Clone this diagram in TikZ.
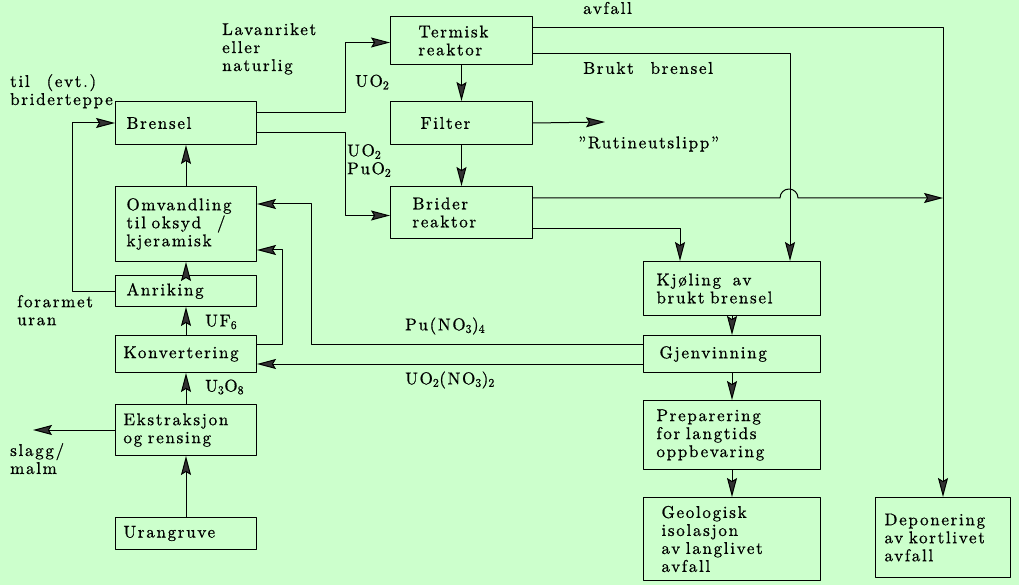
\documentclass[tikz,border=0pt]{standalone}
\usepackage{fontspec}
\setmainfont{lmroman10-regular.otf}[LetterSpace=10, WordSpace=2.3, FakeBold=0.8]
\usetikzlibrary{arrows.meta}
\definecolor{paper}{RGB}{204,255,204}
\definecolor{tipgray}{RGB}{50,50,50}

\begin{document}
\begin{tikzpicture}[
  x=1pt,
  y=-1pt,
  line cap=round,
  line join=round,
  every node/.style={font=\fontsize{17}{18}\selectfont},
  stage/.style={draw=black, line width=1pt, anchor=north west, align=left, inner ysep=0pt},
  tag/.style={inner sep=0pt, align=left},
  flow/.style={-{Stealth[length=19pt, width=10pt, inset=3pt, fill=tipgray]}, line width=1pt}
]
  % Paper and its margins.
  \fill[paper] (0,0) rectangle (1019,585);

  % Fuel preparation column.
  \node[stage, minimum width=141pt, minimum height=43pt, text width=119pt, inner xsep=11pt]
    (brensel) at (115,101) {Brensel};
  \node[stage, minimum width=141pt, minimum height=75pt, text width=119pt, inner xsep=11pt]
    (omvandling) at (115,186) {Omvandling\\til oksyd\hspace{16pt}/\\kjeramisk};
  \node[stage, minimum width=141pt, minimum height=31pt, text width=119pt, inner xsep=11pt]
    (anriking) at (115,275) {Anriking};
  \node[stage, minimum width=141pt, minimum height=37pt, text width=125pt, inner xsep=8pt]
    (konvertering) at (115,335) {Konvertering};
  \node[stage, minimum width=141pt, minimum height=51pt, text width=125pt, inner xsep=8pt]
    (ekstraksjon) at (115,404) {Ekstraksjon\\og rensing};
  \node[stage, minimum width=141pt, minimum height=32pt, text width=125pt, inner xsep=8pt]
    (urangruve) at (115,517) {Urangruve};

  % Reactors.
  \node[stage, minimum width=142pt, minimum height=48pt, text width=86pt, inner xsep=28pt]
    (termisk) at (390,16) {Termisk\\reaktor};
  \node[stage, minimum width=142pt, minimum height=43pt, text width=82pt, inner xsep=30pt]
    (filter) at (390,101) {Filter};
  \node[stage, minimum width=142pt, minimum height=52pt, text width=98pt, inner xsep=22pt]
    (brider) at (390,186) {Brider\\reaktor};

  % Back end of the cycle.
  \node[stage, minimum width=177pt, minimum height=54pt, text width=151pt, inner xsep=13pt]
    (kjoling) at (643,261) {Kjøling\hspace{6pt} av\\brukt brensel};
  \node[stage, minimum width=177pt, minimum height=37pt, text width=145pt, inner xsep=16pt]
    (gjenvinning) at (643,335) {Gjenvinning};
  \node[stage, minimum width=177pt, minimum height=69pt, text width=151pt, inner xsep=13pt]
    (preparering) at (643,400) {Preparering\\for langtids\\oppbevaring};
  \node[stage, minimum width=177pt, minimum height=83pt, text width=141pt, inner xsep=18pt]
    (geologisk) at (643,497) {Geologisk\\isolasjon\\av langlivet\\avfall};
  \node[stage, minimum width=135pt, minimum height=80pt, text width=117pt, inner xsep=9pt]
    (deponering) at (875,497) {Deponering\\av kortlivet\\avfall};

  % Labels on the flows.
  \node[tag, anchor=north west] (evt) at (10,74) {til (evt.)\\briderteppe};
  \node[tag, anchor=north west] (lavanriket) at (222,23) {Lavanriket\\eller\\naturlig};
  \node[tag, anchor=west] (uo) at (355,82) {UO\textsubscript{2}};
  \node[tag, anchor=north west] (mox) at (347,144) {UO\textsubscript{2}\\PuO\textsubscript{2}};
  \node[tag, anchor=west] (avfall) at (583,8) {avfall};
  \node[tag, anchor=west] (brukt) at (583,68) {Brukt brensel};
  \node[tag, anchor=west] (utslipp) at (578,144) {''Rutineutslipp''};
  \node[tag, anchor=north west] (forarmet) at (17,295) {forarmet\\uran};
  \node[tag, anchor=west] (uf) at (205,322) {UF\textsubscript{6}};
  \node[tag, anchor=west] (uoo) at (205,387) {U\textsubscript{3}O\textsubscript{8}};
  \node[tag, anchor=north west] (slagg) at (10,443) {slagg/\\malm};
  \node[tag, anchor=west] (punitrat) at (405,326) {Pu(NO\textsubscript{3})\textsubscript{4}};
  \node[tag, anchor=west] (uranylnitrat) at (405,380) {UO\textsubscript{2}(NO\textsubscript{3})\textsubscript{2}};

  % Free ends and the crossing.
  \coordinate (utslippend) at (605,122);
  \coordinate (slaggend) at (33,430);
  \coordinate (hop) at (789,198);

  % Front end: from the mine up to the fuel.
  \draw[flow] (urangruve.north) -- (ekstraksjon.south);
  \draw[flow] (ekstraksjon.north) -- (konvertering.south);
  \draw[flow] (konvertering.north) -- (anriking.south);
  \draw[flow] (anriking.north) -- (omvandling.south);
  \draw[flow] (omvandling.north) -- (brensel.south);
  \draw[flow] (anriking.west) -| ([xshift=-43pt]brensel.west) -- (brensel.west);
  \draw[flow] (ekstraksjon.west) -- (ekstraksjon.west -| slaggend);

  % Fuel into the two reactors.
  \draw[flow] ([yshift=10pt]brensel.east) -- ++(88,0) |- ([yshift=-2pt]termisk.west);
  \draw[flow] ([yshift=-10pt]brensel.east) -- ++(88,0) |- ([yshift=-3pt]brider.west);
  \draw[flow] (termisk.south) -- (filter.north);
  \draw[flow] (filter.south) -- (brider.north);
  \draw[flow] (filter.east) -- (utslippend);

  % Waste and spent fuel.
  \draw[flow] ([yshift=13pt]termisk.east) -| (deponering.north);
  \draw[flow] ([yshift=-13pt]termisk.east) -| ([xshift=-31pt]kjoling.north east);
  \draw[flow] (brider.east |- hop) -- ([xshift=-9pt]hop)
    arc[start angle=180, end angle=0, radius=9pt] -- (hop -| deponering.north);
  \draw[flow] ([yshift=-16pt]brider.east) -| ([xshift=37pt]kjoling.north west);
  \draw[flow] (kjoling.south) -- (gjenvinning.north);
  \draw[flow] (gjenvinning.south) -- (preparering.north);
  \draw[flow] (preparering.south) -- (geologisk.north);

  % Recovered plutonium and uranium go back to the front end.
  \draw[flow] ([yshift=10pt]gjenvinning.west) -| ([xshift=54pt,yshift=20pt]omvandling.east)
    -- ([yshift=20pt]omvandling.east);
  \draw[flow] ([yshift=-10pt]gjenvinning.west) -- ([yshift=-10pt]konvertering.east);
  \draw[flow] ([yshift=10pt]konvertering.east) -| ([xshift=25pt,yshift=-26pt]omvandling.east)
    -- ([yshift=-26pt]omvandling.east);
\end{tikzpicture}
\end{document}
